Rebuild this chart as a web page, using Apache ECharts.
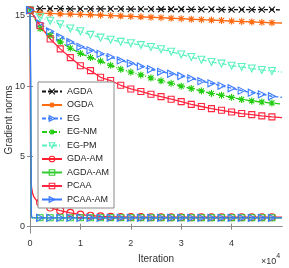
<!DOCTYPE html>
<html><head><meta charset="utf-8">
<script src="https://cdn.jsdelivr.net/npm/echarts@6/dist/echarts.min.js"></script>
<style>html,body{margin:0;padding:0;background:#fff}#c{width:289px;height:268px}</style>
</head><body><div id="c"></div>
<script>
// ---- data ----
const seriesNames = ['AGDA','OGDA','EG','EG-NM','EG-PM','GDA-AM','AGDA-AM','PCAA','PCAA-AM'];
const iters = [0,2000,4000,6000,8000,10000,12000,14000,16000,18000,20000,22000,24000,26000,28000,30000,32000,34000,36000,38000,40000,42000,44000,46000,48000,50000];
const agda  = [15.45,15.52,15.51,15.51,15.5,15.5,15.5,15.49,15.49,15.49,15.48,15.48,15.48,15.47,15.47,15.47,15.46,15.46,15.46,15.45,15.45,15.45,15.44,15.44,15.44,15.43];
const ogda  = [15.4,15.2,15.17,15.14,15.12,15.1,15.08,15.05,15.02,14.99,14.96,14.93,14.9,14.87,14.83,14.8,14.76,14.73,14.7,14.67,14.63,14.6,14.57,14.54,14.51,14.49];
const eg    = [15.4,14.45,13.9,13.5,13.14,12.8,12.55,12.3,12.07,11.83,11.62,11.4,11.2,11.02,10.88,10.72,10.55,10.35,10.2,10.02,9.85,9.68,9.53,9.42,9.28,9.2];
const egNm  = [15.4,14.1,13.6,13.15,12.7,12.33,12.03,11.78,11.48,11.2,11.0,10.8,10.58,10.38,10.2,10.0,9.83,9.66,9.48,9.35,9.2,9.05,8.95,8.87,8.8,8.72];
const egPm  = [15.4,14.9,14.65,14.4,14.1,13.9,13.65,13.45,13.3,13.15,13.05,12.92,12.78,12.62,12.45,12.25,12.07,11.88,11.72,11.6,11.45,11.36,11.25,11.15,11.08,11.0];
const pcaa  = [15.4,14.3,13.35,12.65,12.03,11.45,11.1,10.63,10.4,10.06,9.8,9.62,9.42,9.25,9.07,8.9,8.7,8.55,8.4,8.28,8.16,8.05,7.97,7.88,7.81,7.76];
// fast-converging series (dense early iterations, then regular)
const gdaAmX = [0,60,120,200,300,500,800,1200,1600,2000,4000,6000,8000,10000,12000,14000,16000,18000,20000,22000,24000,26000,28000,30000,32000,34000,36000,38000,40000,42000,44000,46000,48000,50000];
const gdaAm  = [15.4,9.0,5.0,3.4,2.8,2.4,2.1,1.9,1.8,1.72,1.36,1.14,0.98,0.86,0.78,0.73,0.7,0.69,0.68,0.68,0.67,0.67,0.67,0.67,0.67,0.67,0.67,0.67,0.67,0.67,0.67,0.67,0.67,0.67];
const agdaAmX = [0,150,250,400,2000,4000,6000,8000,10000,12000,14000,16000,18000,20000,22000,24000,26000,28000,30000,32000,34000,36000,38000,40000,42000,44000,46000,48000,50000];
const agdaAm  = [15.4,9.0,0.8,0.63,0.63,0.63,0.63,0.63,0.63,0.63,0.63,0.63,0.63,0.63,0.63,0.63,0.63,0.63,0.63,0.63,0.63,0.63,0.63,0.63,0.63,0.63,0.63,0.63,0.63];
const pcaaAmX = [0,150,250,350,2000,4000,6000,8000,10000,12000,14000,16000,18000,20000,22000,24000,26000,28000,30000,32000,34000,36000,38000,40000,42000,44000,46000,48000,50000];
const pcaaAm  = [15.4,10.0,1.0,0.64,0.63,0.63,0.63,0.63,0.63,0.63,0.63,0.63,0.63,0.63,0.63,0.63,0.63,0.63,0.63,0.63,0.63,0.63,0.63,0.63,0.63,0.63,0.63,0.63,0.63];
const xTicks = [0,10000,20000,30000,40000];
const yTicks = [0,5,10,15];

// ---- chart ----
const FONT = 'Liberation Sans, Arial, Helvetica, sans-serif';
const STAR = 'path://M0,-5L0,5M-5,0L5,0M-3.6,-3.6L3.6,3.6M-3.6,3.6L3.6,-3.6';
const XMARK = 'path://M-4,-4L4,4M-4,4L4,-4';
function mk(xs, ys){
  return xs.map((x,i)=>{
    const d = {value:[x, ys[i]]};
    if (x % 2000 !== 0 || x > 48000) d.symbol = 'none';
    return d;
  });
}
function ser(name, xs, ys, color, symbol, opts){
  opts = opts || {};
  return {
    name, type:'line', data: mk(xs, ys), showAllSymbol:true, animation:false,
    symbol, symbolSize: opts.size || 7, symbolRotate: opts.rot || 0,
    lineStyle:{color, width: opts.width || 1.3, type: opts.dash || 'solid'},
    itemStyle:{color: opts.fill || 'rgba(255,255,255,0)', borderColor: color, borderWidth: 1.1},
    emphasis:{disabled:true}
  };
}
const chart = echarts.init(document.getElementById('c'), null, {renderer:'canvas'});
const axisLineStyle = {color:'#8a8a8a', width:1};
chart.setOption({
  backgroundColor:'#fff',
  animation:false,
  grid:{left:30, right:7, top:7, bottom:35, show:false, containLabel:false, outerBoundsMode:'none'},
  xAxis:[{
    type:'value', min:0, max:50000, position:'bottom',
    axisLine:{show:true, lineStyle:axisLineStyle},
    axisTick:{show:true, inside:true, length:3, customValues:xTicks, lineStyle:axisLineStyle},
    axisLabel:{customValues:xTicks, formatter:v=>String(v/10000), fontSize:9, fontFamily:FONT, color:'#333', margin:6},
    splitLine:{show:false},
    name:'Iteration', nameLocation:'middle', nameGap:21, nameMoveOverlap:false,
    nameTextStyle:{fontSize:10, fontFamily:FONT, color:'#333'}
  },{
    type:'value', min:0, max:50000, position:'top',
    axisLine:{show:true, lineStyle:axisLineStyle},
    axisTick:{show:true, inside:true, length:3, customValues:xTicks, lineStyle:axisLineStyle},
    axisLabel:{show:false}, splitLine:{show:false}
  }],
  yAxis:[{
    type:'value', min:-0.45, max:15.63, position:'left',
    axisLine:{show:true, lineStyle:axisLineStyle},
    axisTick:{show:true, inside:true, length:3, customValues:yTicks, lineStyle:axisLineStyle},
    axisLabel:{customValues:yTicks, fontSize:9, fontFamily:FONT, color:'#333', margin:5},
    splitLine:{show:false},
    name:'Gradient norms', nameLocation:'middle', nameGap:16, nameMoveOverlap:false,
    nameTextStyle:{fontSize:10, fontFamily:FONT, color:'#333'}
  },{
    type:'value', min:-0.45, max:15.63, position:'right',
    axisLine:{show:true, lineStyle:axisLineStyle},
    axisTick:{show:true, inside:true, length:3, customValues:yTicks, lineStyle:axisLineStyle},
    axisLabel:{show:false}, splitLine:{show:false}
  }],
  legend:{
    orient:'vertical', left:38, top:82, padding:[5,5,4,3],
    itemWidth:20, itemHeight:7, itemGap:4.5,
    backgroundColor:'#fff', borderColor:'#8a8a8a', borderWidth:1, borderRadius:0,
    itemStyle:{color:'rgba(255,255,255,0)', borderWidth:1.1},
    textStyle:{fontSize:9, fontFamily:FONT, color:'#222', lineHeight:9},
    data: seriesNames
  },
  graphic:[{
    type:'text', left:261, top:253,
    style:{text:'{a|×10}{b|4}', rich:{
      a:{fontSize:9, fontFamily:FONT, fill:'#333', padding:[4,0,0,0]},
      b:{fontSize:7, fontFamily:FONT, fill:'#333', verticalAlign:'top', padding:[0,0,4,0]}
    }}
  }],
  series:[
    ser('AGDA', iters, agda, '#111111', XMARK, {dash:[4,2], size:6}),
    ser('OGDA', iters, ogda, '#FF6A13', STAR, {size:7}),
    ser('EG', iters, eg, '#3D7DFF', 'triangle', {dash:[4,2], rot:-90, size:7}),
    ser('EG-NM', iters, egNm, '#22CC10', STAR, {dash:[5,2,1,2], size:7}),
    ser('EG-PM', iters, egPm, '#5CF2C0', 'triangle', {dash:[5,2,1,2], rot:180, size:7}),
    ser('GDA-AM', gdaAmX, gdaAm, '#FF1F2E', 'circle', {size:7}),
    ser('AGDA-AM', agdaAmX, agdaAm, '#33CC33', 'rect', {size:6}),
    ser('PCAA', iters, pcaa, '#FF2640', 'rect', {size:6}),
    ser('PCAA-AM', pcaaAmX, pcaaAm, '#3A78FF', 'triangle', {rot:-90, size:7})
  ]
});
</script></body></html>
